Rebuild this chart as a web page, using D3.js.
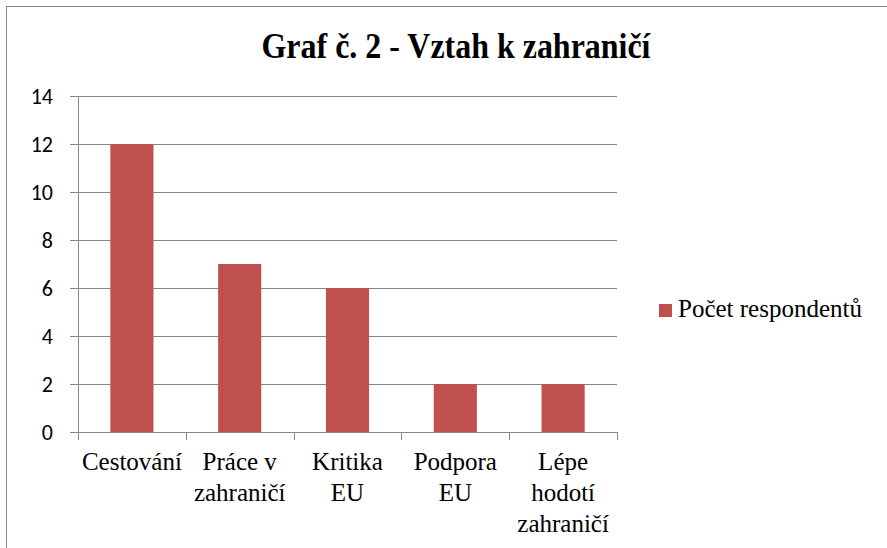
<!DOCTYPE html>
<html>
<head>
<meta charset="utf-8">
<script src="https://cdn.jsdelivr.net/npm/d3@7"></script>
<style>
  body { margin: 0; background: #fff; }
  svg { display: block; }
</style>
</head>
<body>
<div id="chart"></div>
<script>
// data
var categories = ["Cestování", "Práce v zahraničí", "Kritika EU", "Podpora EU", "Lépe hodotí zahraničí"];
var values = [12, 7, 6, 2, 2];
var yTicks = [0, 2, 4, 6, 8, 10, 12, 14];
var seriesName = "Počet respondentů";
var title = "Graf č. 2 - Vztah k zahraničí";

var width = 887, height = 548;
var margin = {left: 78, top: 96, right: 270, bottom: 116};
var plotW = width - margin.left - margin.right;
var plotH = height - margin.top - margin.bottom;
var grey = "#868686";
var red = "#C0504D";

var svg = d3.select("#chart").append("svg")
    .attr("width", width)
    .attr("height", height);

// outer frame (only left and top edges show)
svg.append("rect")
    .attr("x", 6.5).attr("y", 6.5)
    .attr("width", 1000).attr("height", 1000)
    .attr("fill", "none")
    .attr("stroke", grey);

svg.append("text")
    .attr("x", 456).attr("y", 58)
    .attr("text-anchor", "middle")
    .attr("font-family", "Liberation Serif")
    .attr("font-weight", "bold")
    .attr("font-size", 35)
    .attr("textLength", 389)
    .attr("lengthAdjust", "spacingAndGlyphs")
    .text(title);

var g = svg.append("g").attr("transform", "translate(" + margin.left + "," + margin.top + ")");

var x = d3.scaleBand().domain(categories).range([0, plotW]).paddingInner(0.6).paddingOuter(0.3);
var y = d3.scaleLinear().domain([0, 14]).range([plotH, 0]);

// y axis with gridlines
var yAxis = d3.axisLeft(y).tickValues(yTicks).tickSize(8).tickPadding(17);
var gy = g.append("g").call(yAxis)
    .attr("font-family", "Carlito")
    .attr("font-size", 22);
gy.select(".domain").attr("stroke", grey).attr("d", "M0.5," + y(14) + "V" + y(0));
gy.selectAll(".tick line").attr("stroke", grey).attr("x1", -8).attr("x2", plotW);
gy.selectAll(".tick text").attr("fill", "#000");

// bars
g.selectAll(".bar").data(values).enter().append("rect")
    .attr("class", "bar")
    .attr("x", function(d, i) { return x(categories[i]); })
    .attr("y", function(d) { return y(d); })
    .attr("width", x.bandwidth())
    .attr("height", function(d) { return plotH - y(d); })
    .attr("fill", red);

// x axis line with ticks at the band boundaries
g.append("line")
    .attr("x1", -8).attr("x2", plotW)
    .attr("y1", plotH + 0.5).attr("y2", plotH + 0.5)
    .attr("stroke", grey);
g.selectAll(".xtick").data(d3.range(categories.length + 1)).enter().append("line")
    .attr("class", "xtick")
    .attr("x1", function(i) { return Math.round(i * x.step()) + 0.5; })
    .attr("x2", function(i) { return Math.round(i * x.step()) + 0.5; })
    .attr("y1", plotH).attr("y2", plotH + 8)
    .attr("stroke", grey);

// category labels, wrapped to the band width
var lab = g.selectAll(".xlab").data(categories).enter().append("text")
    .attr("class", "xlab")
    .attr("text-anchor", "middle")
    .attr("font-family", "Liberation Serif")
    .attr("font-size", 25)
    .attr("transform", function(d) { return "translate(" + (x(d) + x.bandwidth() / 2) + "," + (plotH + 38) + ")"; });

lab.each(function(d) {
    var t = d3.select(this);
    var words = d.split(" ");
    var lines = [], cur = [];
    words.forEach(function(w) {
        cur.push(w);
        t.text(cur.join(" "));
        if (t.node().getComputedTextLength() > 106 && cur.length > 1) {
            cur.pop();
            lines.push(cur.join(" "));
            cur = [w];
        }
    });
    lines.push(cur.join(" "));
    t.text(null);
    lines.forEach(function(l, i) {
        t.append("tspan").attr("x", 0).attr("y", i * 31).text(l);
    });
});

// legend
var lg = svg.append("g").attr("transform", "translate(659,304)");
lg.append("rect").attr("width", 13).attr("height", 13).attr("fill", red);
lg.append("text")
    .attr("x", 19).attr("y", 13)
    .attr("font-family", "Liberation Serif")
    .attr("font-size", 25)
    .text(seriesName);
</script>
</body>
</html>
